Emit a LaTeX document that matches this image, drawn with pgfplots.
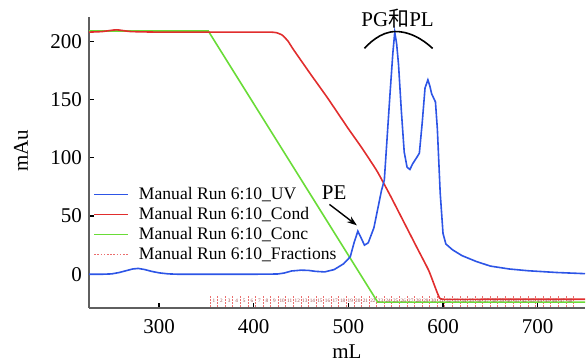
\documentclass[border=0pt]{standalone}
\usepackage{pgfplots}
\pgfplotsset{compat=1.18}
\usepackage{fontspec}
\setmainfont{Liberation Serif}
\newfontfamily\cjk{Noto Sans CJK SC}
\usetikzlibrary{arrows.meta}
\definecolor{uvblue}{RGB}{45,85,230}
\definecolor{condred}{RGB}{225,45,45}
\definecolor{concgreen}{RGB}{105,220,55}
\definecolor{fracred}{RGB}{235,110,110}
\definecolor{axgray}{RGB}{95,95,95}
\begin{document}
\begin{tikzpicture}
\path[use as bounding box] (-44.5pt,-27pt) rectangle (249pt,154pt);
\begin{axis}[
  scale only axis,
  width=248pt, height=145.5pt,
  xmin=226, xmax=750, ymin=-29, ymax=221,
  axis x line*=bottom, axis y line*=left,
  axis line style={axgray, line width=0.9pt, -},
  xtick={300,400,500,600,700},
  ytick={0,50,100,150,200},
  tick align=inside,
  major tick length=2.5pt,
  tick style={black, line width=0.6pt},
  /pgf/number format/assume math mode=true,
  ticklabel style={font=\fontsize{10.5}{12}\selectfont},
  xticklabel style={yshift=-2pt},
  xlabel={mL}, ylabel={mAu},
  label style={font=\fontsize{10.5}{12}\selectfont},
  xlabel style={at={(axis description cs:0.52,0)}, anchor=center, yshift=-22pt},
  ylabel style={at={(axis description cs:-0.137,0.54)}, anchor=center},
  clip=false,
  legend cell align=left,
  legend image code/.code={\draw[#1] (0pt,0pt) -- (17pt,0pt);},
  legend style={draw=none, fill=none, at={(axis description cs:0.008,0.42)}, anchor=north west,
    font=\fontsize{8.8}{10}\selectfont, inner sep=0pt, row sep=1.5pt,
    nodes={inner sep=0pt, text height=6.5pt, text depth=2pt},
    /tikz/every odd column/.append style={column sep=5pt}},
]
\addlegendimage{uvblue, line width=0.8pt}
\addlegendimage{condred, line width=0.8pt}
\addlegendimage{concgreen, line width=0.8pt}
\addlegendimage{fracred, line width=0.6pt, dash pattern=on 0.8pt off 0.8pt}
\legend{Manual Run 6:10\_UV, Manual Run 6:10\_Cond, Manual Run 6:10\_Conc, Manual Run 6:10\_Fractions}

% fractions
\addplot[forget plot, draw=none, mark=none,
  error bars/.cd, y dir=plus, y explicit,
  error mark=none,
  error bar style={fracred, line width=0.5pt, dash pattern=on 0.8pt off 0.7pt}]
coordinates {
(354,-28) +- (0,10) (362,-28) +- (0,10) (370,-28) +- (0,10) (378,-28) +- (0,10) (386,-28) +- (0,10)
(394,-28) +- (0,10) (402,-28) +- (0,10) (410,-28) +- (0,10) (418,-28) +- (0,10) (426,-28) +- (0,10)
(434,-28) +- (0,10) (442,-28) +- (0,10) (450,-28) +- (0,10) (458,-28) +- (0,10) (466,-28) +- (0,10)
(474,-28) +- (0,10) (482,-28) +- (0,10) (490,-28) +- (0,10) (498,-28) +- (0,10) (506,-28) +- (0,10)
(514,-28) +- (0,10) (522,-28) +- (0,10) (530,-28) +- (0,10) (538,-28) +- (0,10) (546,-28) +- (0,10)
(554,-28) +- (0,10) (562,-28) +- (0,10) (570,-28) +- (0,10) (578,-28) +- (0,10) (586,-28) +- (0,10)
(594,-28) +- (0,10) (602,-28) +- (0,10) (610,-28) +- (0,10) (618,-28) +- (0,10) (626,-28) +- (0,10)
(634,-28) +- (0,10) (642,-28) +- (0,10) (650,-28) +- (0,10) (658,-28) +- (0,10) (666,-28) +- (0,10)
(674,-28) +- (0,10) (682,-28) +- (0,10) (690,-28) +- (0,10) (698,-28) +- (0,10) (706,-28) +- (0,10)
(714,-28) +- (0,10) (722,-28) +- (0,10) (730,-28) +- (0,10) (738,-28) +- (0,10)
};
\addplot[forget plot, draw=none, mark=none, nodes near coords, point meta=explicit symbolic,
  every node near coord/.append style={font=\fontsize{2.6}{3}\selectfont, text=fracred!70!black, anchor=center, inner sep=0pt}]
table[meta=l] {
x y l
358 -23 1
366 -23 2
374 -23 3
382 -23 4
390 -23 5
398 -23 6
406 -23 7
414 -23 8
422 -23 9
430 -23 10
438 -23 11
446 -23 12
454 -23 13
462 -23 14
470 -23 15
478 -23 16
486 -23 17
494 -23 18
502 -23 19
510 -23 20
518 -23 21
526 -23 22
534 -23 23
542 -23 24
550 -23 25
558 -23 26
566 -23 27
574 -23 28
582 -23 29
590 -23 30
598 -23 31
606 -23 32
614 -23 33
622 -23 34
630 -23 35
638 -23 36
646 -23 37
654 -23 38
662 -23 39
670 -23 40
678 -23 41
686 -23 42
694 -23 43
702 -23 44
710 -23 45
718 -23 46
726 -23 47
734 -23 48
};

% Conc
\addplot[forget plot, concgreen, line width=0.8pt] coordinates {
(226,209) (352,209) (531,-24) (750,-24)
};
% Cond
\addplot[forget plot, condred, line width=0.8pt, smooth, tension=0.3] coordinates {
(226,208) (240,208.5) (255,210) (270,208.5) (300,208) (350,208) (400,208) (418,208)
(424,207.5) (430,205.5) (436,200.5) (442,193) (460,172) (478,151.5) (500,125) (513,110)
(530,89) (544,68) (556,49) (573,22) (585,3) (595,-18) (600,-21.5) (650,-21.5) (750,-21.5)
};
% UV
\addplot[forget plot, uvblue, line width=0.8pt] coordinates {
(226,0) (240,0) (250,0.3) (258,1.5) (265,3) (272,4.5) (278,5) (285,4) (292,2.5) (300,1.2) (310,0.3) (320,0)
(350,0) (400,0) (425,0.2) (432,1) (440,2.8) (450,3.5) (458,3.3) (465,2.5) (475,2) (485,4) (495,9)
(502,15) (506,27) (510,37) (513,32) (517,25) (521,27) (527,40) (532,60) (535,72) (538,81)
(541,118) (544,155) (547,190) (549,208) (551,198) (553,180) (556,140) (559,105) (562,92) (565,90)
(568,95) (572,100) (575,104) (578,130) (581,160) (584,167) (586,162) (588,155) (592,148)
(594,125) (597,70) (600,35) (603,26) (610,21) (620,16) (635,11) (650,7) (670,4.5) (690,3) (720,1.5) (750,0.5)
};

\node[font=\fontsize{10.5}{12}\selectfont] at (axis cs:552,220) {PG{\cjk 和}PL};
\draw[black, line width=0.8pt] (axis cs:517,194) parabola bend (axis cs:550,208.5) (axis cs:589,194);
\node[font=\fontsize{10.5}{12}\selectfont] at (axis cs:485,70) {PE};
\draw[black, line width=0.7pt, -{Stealth[length=5pt,width=3.5pt]}] (axis cs:480,60) -- (axis cs:509,42);
\end{axis}
\end{tikzpicture}
\end{document}
